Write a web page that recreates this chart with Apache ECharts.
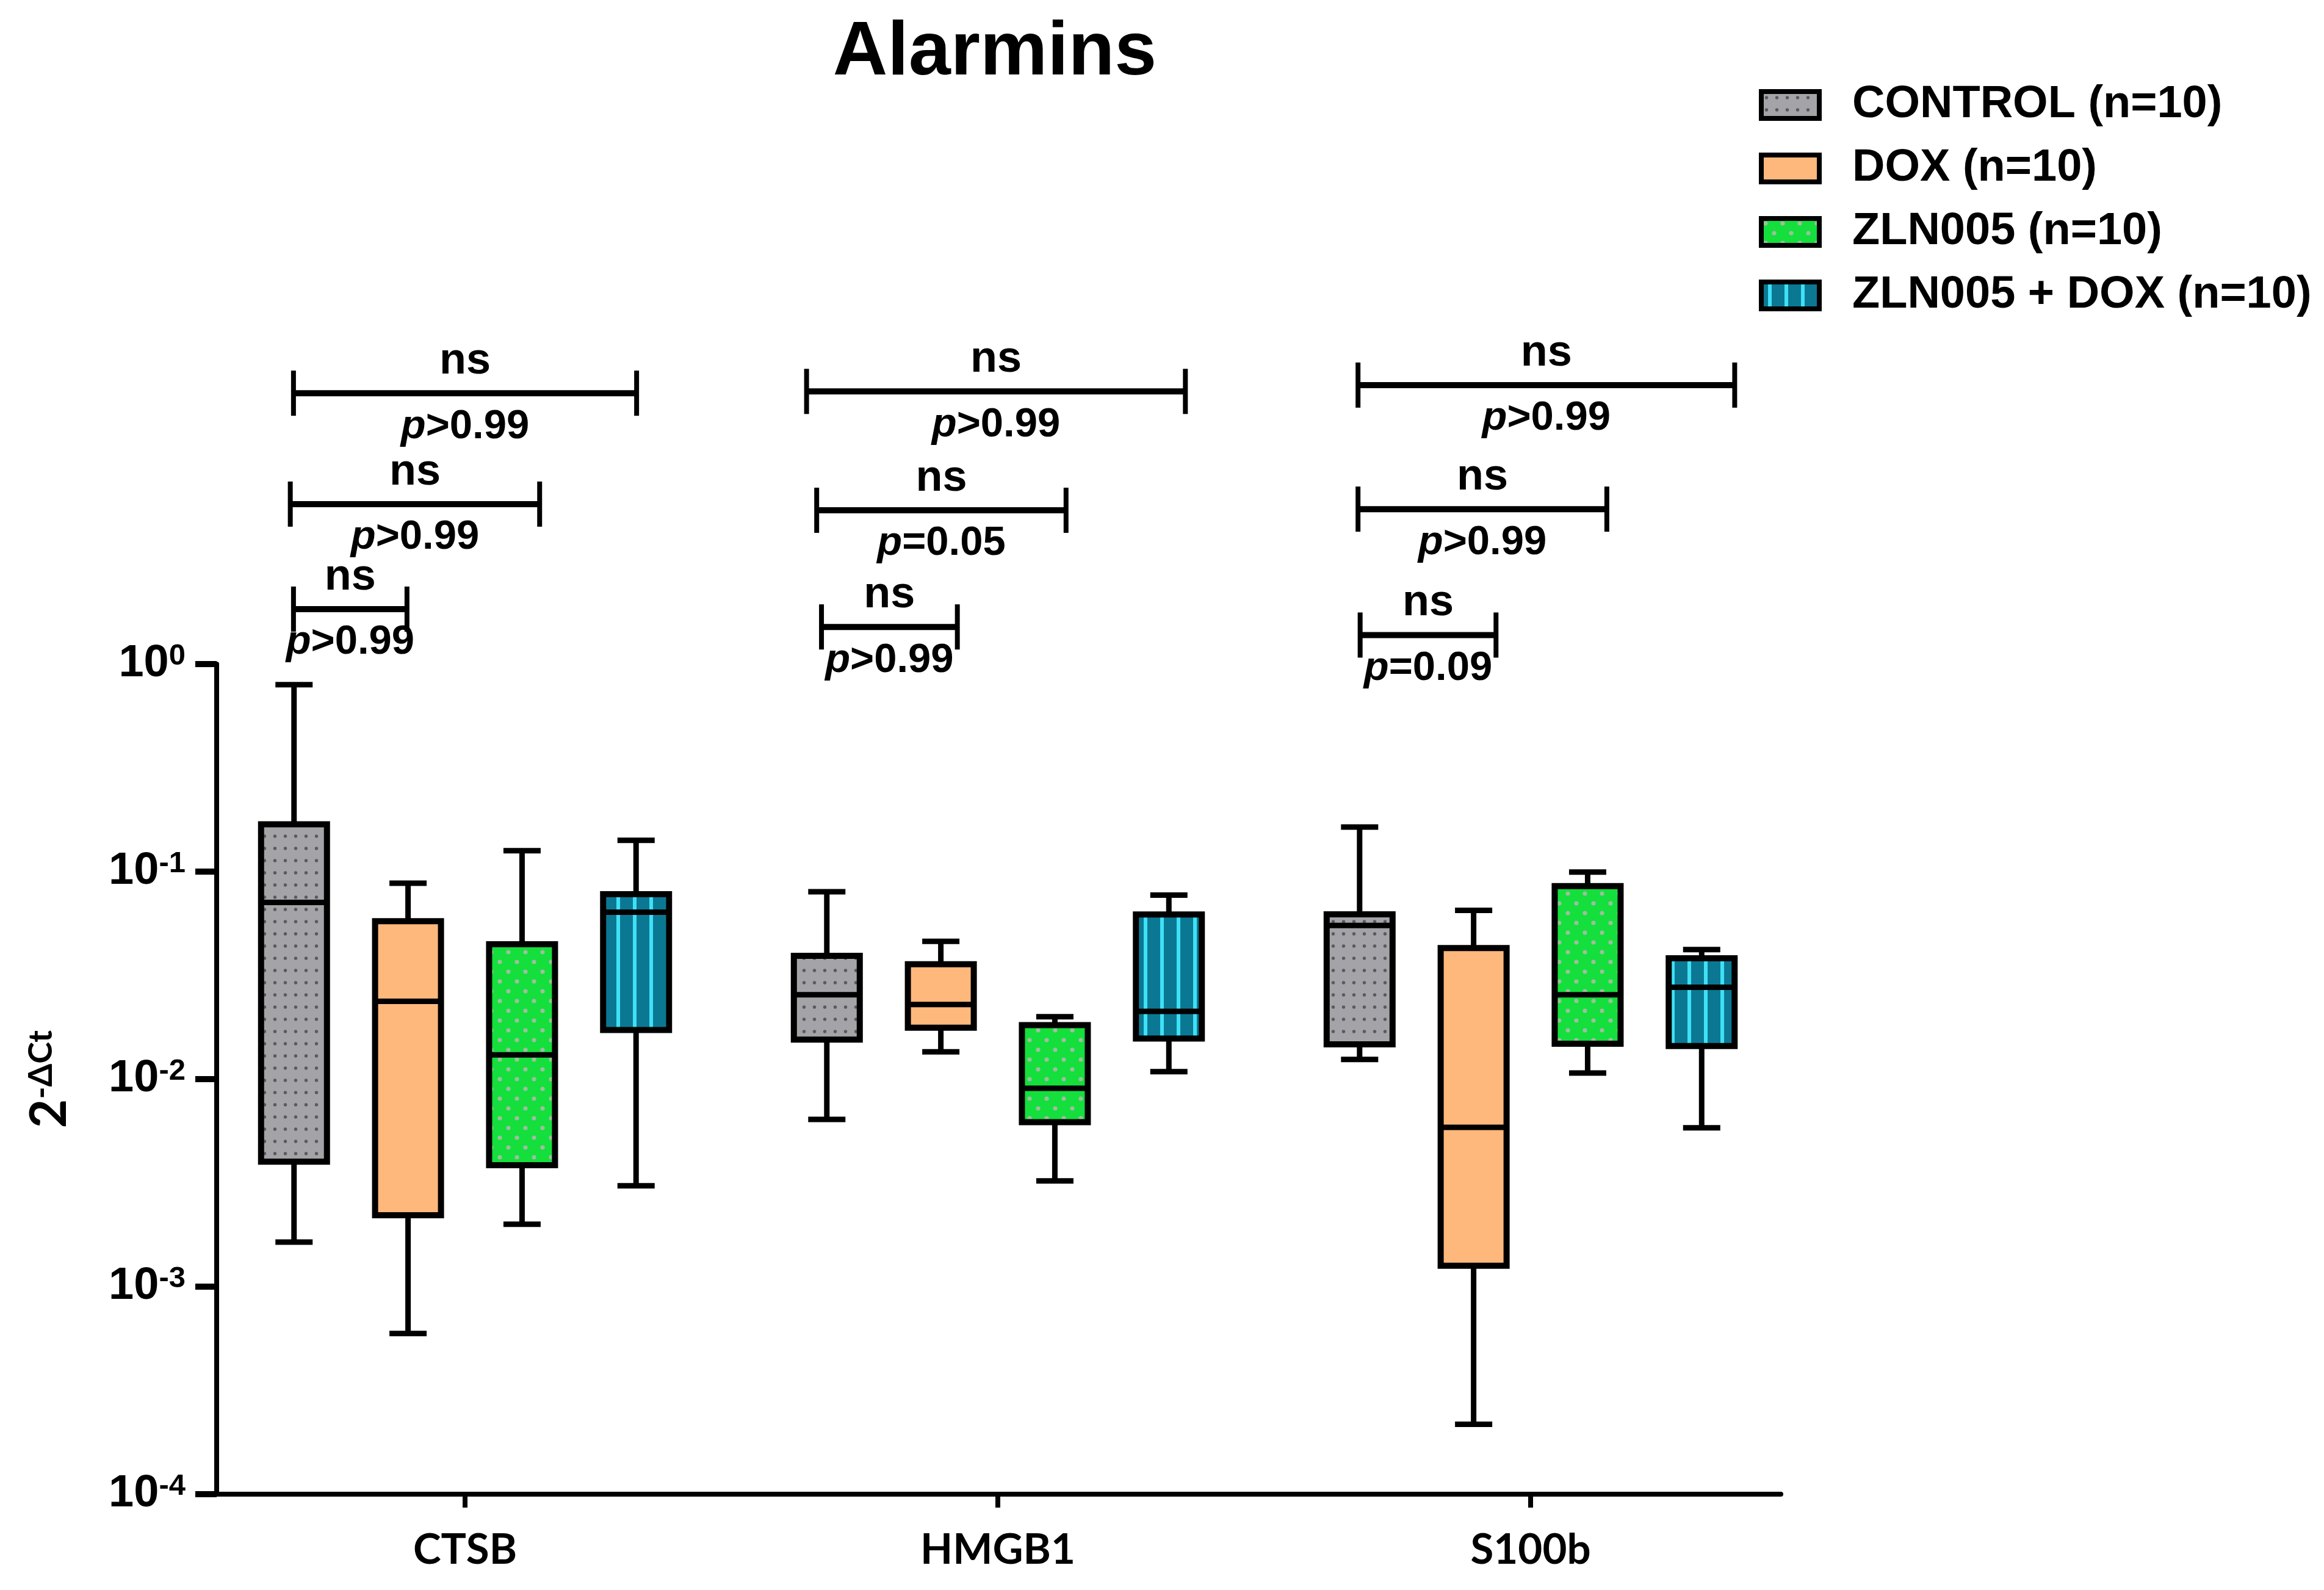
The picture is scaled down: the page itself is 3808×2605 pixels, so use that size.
<!DOCTYPE html>
<html>
<head>
<meta charset="utf-8">
<script src="https://cdn.jsdelivr.net/npm/echarts@6/dist/echarts.min.js"></script>
<style>
html,body{margin:0;padding:0;background:#fff;}
#chart{width:3808px;height:2605px;}
</style>
</head>
<body>
<div id="chart"></div>
<script>
// ---------------- data ----------------
const categories = ['CTSB', 'HMGB1', 'S100b'];
const groupNames = ['CONTROL (n=10)', 'DOX (n=10)', 'ZLN005 (n=10)', 'ZLN005 + DOX (n=10)'];
// each row: [min, Q1, median, Q3, max] per category
const controlBox = [[0.00164, 0.0040, 0.071, 0.169, 0.796], [0.0064, 0.0155, 0.0255, 0.0393, 0.080], [0.01245, 0.0147, 0.0550, 0.0622, 0.164]];
const doxBox = [[0.000595, 0.00221, 0.0237, 0.0577, 0.0879], [0.01355, 0.0177, 0.0229, 0.0358, 0.0461], [0.000217, 0.00126, 0.00586, 0.0428, 0.065]];
const zlnBox = [[0.0020, 0.00385, 0.0131, 0.0447, 0.126], [0.00323, 0.0062, 0.00904, 0.0182, 0.0200], [0.0107, 0.0148, 0.0255, 0.0851, 0.0995]];
const zlnDoxBox = [[0.00306, 0.01726, 0.0637, 0.0778, 0.1416], [0.01086, 0.0157, 0.0212, 0.0621, 0.0771], [0.00583, 0.01445, 0.0277, 0.0382, 0.0421]];
const yTickExponents = [-4, -3, -2, -1, 0];
// significance brackets: x from / x to (axis units), level (y value), label
const bracketFrom = [-0.322, -0.328, -0.322, 0.641, 0.660, 0.669, 1.676, 1.676, 1.680];
const bracketTo = [0.322, 0.140, -0.109, 1.352, 1.128, 0.924, 2.383, 2.143, 1.935];
const bracketLevel = [20.2, 5.90, 1.84, 20.6, 5.51, 1.51, 22.1, 5.58, 1.38];
const bracketSig = ['ns', 'ns', 'ns', 'ns', 'ns', 'ns', 'ns', 'ns', 'ns'];
const bracketP = ['>0.99', '>0.99', '>0.99', '>0.99', '=0.05', '>0.99', '>0.99', '>0.99', '=0.09'];

// ---------------- layout / style ----------------
const X_MIN = -0.4662, X_MAX = 2.4696;
const OFFSETS = [-0.321, -0.107, 0.107, 0.321];
const BOX_W = 108, CAP_W = 61;
const ARIAL = '"Liberation Sans", Arial, sans-serif';
const LATO = 'Lato, "Liberation Sans", sans-serif';

function makePattern(w, h, draw) {
  const c = document.createElement('canvas');
  c.width = w; c.height = h;
  draw(c.getContext('2d'), w, h);
  return { image: c, repeat: 'repeat' };
}
function dots(ctx, color, pts, r) {
  ctx.fillStyle = color;
  pts.forEach(p => { ctx.beginPath(); ctx.arc(p[0], p[1], r, 0, Math.PI * 2); ctx.fill(); });
}
const fills = [
  makePattern(17, 20, (ctx, w, h) => { ctx.fillStyle = '#a4a4a8'; ctx.fillRect(0, 0, w, h); dots(ctx, '#5a5a5e', [[8.5, 10]], 2.7); }),
  '#ffb87c',
  makePattern(28, 32, (ctx, w, h) => { ctx.fillStyle = '#14df3c'; ctx.fillRect(0, 0, w, h); dots(ctx, '#9dbf9d', [[7, 8], [21, 24]], 3.6); }),
  makePattern(27, 10, (ctx, w, h) => { ctx.fillStyle = '#0b7893'; ctx.fillRect(0, 0, w, h); ctx.fillStyle = '#3fe0f6'; ctx.fillRect(11, 0, 6, h); })
];
const boxData = [controlBox, doxBox, zlnBox, zlnDoxBox];

function boxSeries(si) {
  return {
    type: 'custom',
    name: groupNames[si],
    coordinateSystem: 'cartesian2d',
    itemStyle: { color: fills[si], borderColor: '#000', borderWidth: 8 },
    encode: { x: 0, y: [1, 2, 3, 4, 5] },
    data: boxData[si].map((r, ci) => [ci].concat(r)),
    renderItem: function (params, api) {
      const g = api.value(0);
      const xc = api.coord([g + OFFSETS[si], 1])[0];
      const yv = [1, 2, 3, 4, 5].map(k => api.coord([g, api.value(k)])[1]);
      const [yMin, yQ1, yMed, yQ3, yMax] = yv;
      const ln = { stroke: '#000', lineWidth: 9 };
      return {
        type: 'group',
        children: [
          { type: 'line', shape: { x1: xc, y1: yMax, x2: xc, y2: yMin }, style: ln },
          { type: 'line', shape: { x1: xc - CAP_W / 2, y1: yMax, x2: xc + CAP_W / 2, y2: yMax }, style: ln },
          { type: 'line', shape: { x1: xc - CAP_W / 2, y1: yMin, x2: xc + CAP_W / 2, y2: yMin }, style: ln },
          { type: 'rect', shape: { x: xc - BOX_W / 2, y: yQ3, width: BOX_W, height: yQ1 - yQ3 },
            style: { fill: fills[si], stroke: '#000', lineWidth: 10 } },
          { type: 'line', shape: { x1: xc - BOX_W / 2, y1: yMed, x2: xc + BOX_W / 2, y2: yMed }, style: { stroke: '#000', lineWidth: 9 } }
        ]
      };
    }
  };
}

const bracketSeries = {
  type: 'custom',
  coordinateSystem: 'cartesian2d',
  silent: true,
  encode: { x: [0, 1], y: 2 },
  data: bracketFrom.map((f, i) => [f, bracketTo[i], bracketLevel[i]]),
  renderItem: function (params, api) {
    const i = params.dataIndex;
    const p1 = api.coord([api.value(0), api.value(2)]);
    const p2 = api.coord([api.value(1), api.value(2)]);
    const y = p1[1], xm = (p1[0] + p2[0]) / 2;
    const ln = { stroke: '#000', lineWidth: 10 };
    const tk = { stroke: '#000', lineWidth: 8 };
    return {
      type: 'group',
      children: [
        { type: 'line', shape: { x1: p1[0], y1: y, x2: p2[0], y2: y }, style: ln },
        { type: 'line', shape: { x1: p1[0], y1: y - 37, x2: p1[0], y2: y + 37 }, style: tk },
        { type: 'line', shape: { x1: p2[0], y1: y - 37, x2: p2[0], y2: y + 37 }, style: tk },
        { type: 'text', style: { text: bracketSig[i], x: xm, y: y - 52, align: 'center', verticalAlign: 'middle',
            fontSize: 72, fontWeight: 'bold', fontFamily: ARIAL, fill: '#000' } },
        { type: 'text', style: { text: '{i|p}{n|' + bracketP[i] + '}', x: xm, y: y + 55, align: 'center', verticalAlign: 'middle',
            fill: '#000',
            rich: {
              i: { fontSize: 67, fontWeight: 'bold', fontStyle: 'italic', fontFamily: ARIAL, fill: '#000', lineHeight: 67 },
              n: { fontSize: 67, fontWeight: 'bold', fontFamily: ARIAL, fill: '#000', lineHeight: 67 }
            } } }
      ]
    };
  }
};

const chart = echarts.init(document.getElementById('chart'), null, { renderer: 'canvas' });
chart.setOption({
  backgroundColor: '#fff',
  animation: false,
  title: {
    text: 'Alarmins', left: 1630, top: 26, textAlign: 'center', padding: 0,
    textStyle: { fontSize: 124, fontWeight: 'bold', fontFamily: ARIAL, color: '#000', lineHeight: 124 }
  },
  legend: {
    orient: 'vertical', left: 2882, top: 135, padding: 0,
    itemWidth: 95, itemHeight: 44, itemGap: 30,
    icon: 'rect',
    itemStyle: { borderColor: '#000', borderWidth: 8 },
    textStyle: { fontSize: 74, fontWeight: 'bold', fontFamily: ARIAL, color: '#000', lineHeight: 74, padding: [0, 0, 0, 49] },
    data: groupNames.map((n, i) => ({ name: n, itemStyle: { color: fills[i], borderColor: '#000', borderWidth: 8 } }))
  },
  grid: { left: 355, right: 890, top: 1088, bottom: 157, containLabel: false },
  xAxis: {
    type: 'value', min: X_MIN, max: X_MAX,
    axisLine: { show: true, onZero: false, lineStyle: { color: '#000', width: 8 } },
    axisTick: { show: true, customValues: [0, 1, 2], length: 22, lineStyle: { color: '#000', width: 8 } },
    axisLabel: {
      customValues: [0, 1, 2], margin: 57,
      formatter: v => categories[Math.round(v)] || '',
      fontSize: 69, fontWeight: 'bold', fontFamily: LATO, color: '#000', lineHeight: 69
    },
    splitLine: { show: false }
  },
  yAxis: {
    type: 'log', logBase: 10, min: 1e-4, max: 1,
    name: '{b|2}{s|-ΔCt}', nameLocation: 'middle', nameRotate: 90, nameGap: 232,
    nameTextStyle: {
      rich: {
        b: { fontSize: 82, fontWeight: 'bold', fontFamily: LATO, color: '#000', lineHeight: 82 },
        s: { fontSize: 54, fontWeight: 'bold', fontFamily: LATO, color: '#000', lineHeight: 54, verticalAlign: 'top' }
      }
    },
    axisLine: { show: true, onZero: false, lineStyle: { color: '#000', width: 8 } },
    axisTick: { show: true, length: 35, lineStyle: { color: '#000', width: 10 } },
    axisLabel: {
      margin: 51,
      formatter: v => {
        const e = Math.round(Math.log10(v));
        return yTickExponents.indexOf(e) >= 0 ? '{b|10}{s|' + e + '}' : '';
      },
      rich: {
        b: { fontSize: 74, fontWeight: 'bold', fontFamily: ARIAL, color: '#000', lineHeight: 74 },
        s: { fontSize: 49, fontWeight: 'bold', fontFamily: ARIAL, color: '#000', lineHeight: 49, verticalAlign: 'top' }
      }
    },
    splitLine: { show: false }
  },
  series: [boxSeries(0), boxSeries(1), boxSeries(2), boxSeries(3), bracketSeries]
});
</script>
</body>
</html>
